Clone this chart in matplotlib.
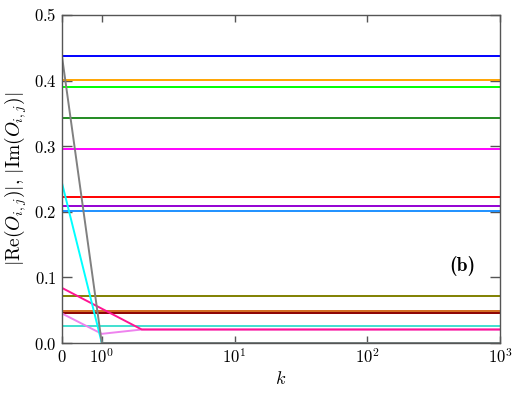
import os
import numpy as np
import matplotlib
matplotlib.use('Agg')
import matplotlib.pyplot as plt
from matplotlib.font_manager import FontProperties
from matplotlib.ticker import FixedLocator, FixedFormatter, NullLocator

plt.rcParams['mathtext.fontset'] = 'cm'
plt.rcParams['font.family'] = 'serif'
plt.rcParams['font.serif'] = ['DejaVu Serif']

# constant (horizontal) series: value and colour
flat_values = [0.437, 0.401, 0.390, 0.3435, 0.295, 0.2218, 0.2085, 0.201,
               0.0715, 0.0487, 0.0452, 0.0263]
flat_colors = ['#0000ff', '#ffa500', '#00ff00', '#228b22', '#ff00ff', '#ff0000',
               '#9400d3', '#1e90ff', '#808000', '#d2691e', '#8b0000', '#40e0d0']

# series that change over the first steps
k_gray = [0, 1, 2, 1000]
v_gray = [0.437, 0.0, 0.0, 0.0]
k_cyan = [0, 1, 2, 1000]
v_cyan = [0.244, 0.0, 0.0, 0.0]
k_violet = [0, 1, 2, 1000]
v_violet = [0.045, 0.014, 0.0206, 0.0206]
k_pink = [0, 2, 1000]
v_pink = [0.084, 0.0206, 0.0206]

k_flat = [0, 1000]

fig = plt.figure(figsize=(5.23, 3.95), dpi=100)
ax = fig.add_axes([0.1185, 0.1316, 0.8375, 0.8305])

lw = 1.4
for val, col in zip(flat_values, flat_colors):
    ax.plot(k_flat, [val, val], color=col, lw=lw)
ax.plot(k_violet, v_violet, color='#ee82ee', lw=lw)
ax.plot(k_pink, v_pink, color='#ff1493', lw=lw)
ax.plot(k_cyan, v_cyan, color='#00ffff', lw=lw)
ax.plot(k_gray, v_gray, color='#808080', lw=lw)

ax.set_xscale('symlog', linthresh=1, linscale=0.27)
ax.set_xlim(0, 1000)
ax.set_ylim(0, 0.5)

xt = [0, 1, 10, 100, 1000]
ax.xaxis.set_major_locator(FixedLocator(xt))
ax.xaxis.set_major_formatter(FixedFormatter([r'$0$', r'$10^{0}$', r'$10^{1}$',
                                             r'$10^{2}$', r'$10^{3}$']))
ax.xaxis.set_minor_locator(NullLocator())
yt = [0.0, 0.1, 0.2, 0.3, 0.4, 0.5]
ax.yaxis.set_major_locator(FixedLocator(yt))
ax.yaxis.set_major_formatter(FixedFormatter([r'$%.1f$' % v for v in yt]))

for s in ax.spines.values():
    s.set_color('#555555')
    s.set_linewidth(1.0)
ax.tick_params(axis='x', direction='in', top=True, length=5, width=1,
               color='#555555', labelsize=12, pad=4)
ax.tick_params(axis='y', direction='in', right=True, length=7, width=1,
               color='#555555', labelsize=12, pad=4)

ax.set_xlabel(r'$k$', fontsize=13, labelpad=2)
ax.set_ylabel(r'$|\mathrm{Re}(O_{i,j})|,\, |\mathrm{Im}(O_{i,j})|$', fontsize=14, labelpad=3)

# panel label in Computer Modern bold
cmb = os.path.join(matplotlib.get_data_path(), 'fonts', 'ttf', 'cmb10.ttf')
ax.text(0.913, 0.235, '(b)', transform=ax.transAxes,
        fontproperties=FontProperties(fname=cmb, size=14),
        ha='center', va='center')

fig.savefig('out.png', dpi=100)
